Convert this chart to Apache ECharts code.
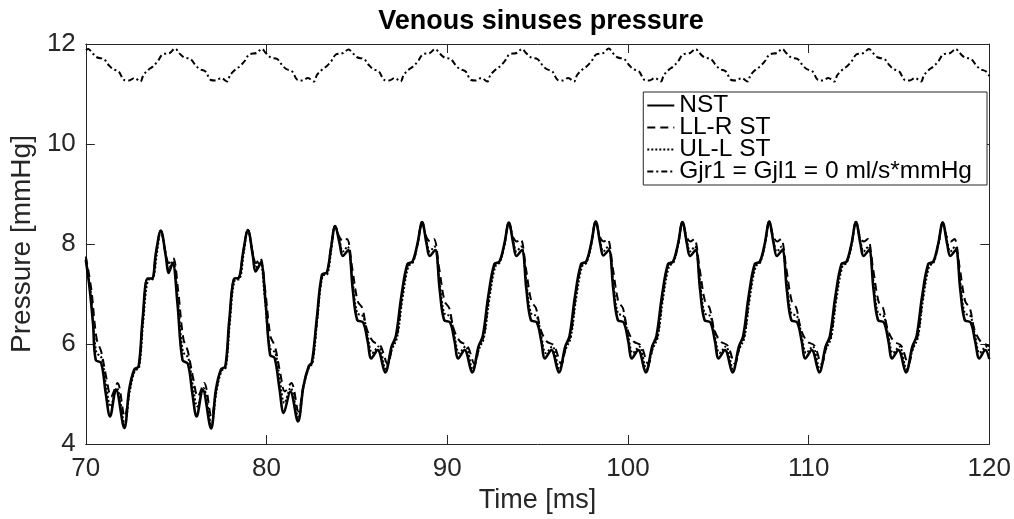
<!DOCTYPE html>
<html>
<head>
<meta charset="utf-8">
<title>Venous sinuses pressure</title>
<script src="https://cdn.jsdelivr.net/npm/echarts@6/dist/echarts.min.js"></script>
<style>
  html, body { margin: 0; padding: 0; background: #fff; }
  #chart { width: 1014px; height: 519px; }
</style>
</head>
<body>
<div id="chart"></div>
<script>
// axis ticks
const timeTicks = [70, 80, 90, 100, 110, 120];
const pressureTicks = [4, 6, 8, 10, 12];

// legend names
const seriesNames = ['NST', 'LL-R ST', 'UL-L ST', 'Gjr1 = Gjl1 = 0 ml/s*mmHg'];

// NST (solid)
const nstTime = [
  70.00, 70.20, 70.40, 70.55, 70.85, 71.10, 71.34, 71.67, 72.13, 72.40, 72.68, 72.92, 73.14, 73.42, 73.66, 73.88, 74.15,
  74.43, 74.58, 74.80, 75.07, 75.35, 75.65, 75.90, 76.13, 76.47, 76.93, 77.20, 77.48, 77.72, 77.94, 78.22, 78.46, 78.70, 78.97,
  79.25, 79.39, 79.68, 79.95, 80.20, 80.45, 80.72, 80.95, 81.32, 81.74, 82.04, 82.33, 82.51, 82.78, 83.07, 83.34, 83.56, 83.80,
  84.05, 84.22, 84.52, 84.77, 85.02, 85.35, 85.60, 85.80, 86.15, 86.57, 86.92, 87.16, 87.46, 87.80, 88.08, 88.35, 88.61,
  88.86, 89.03, 89.33, 89.58, 89.83, 90.16, 90.41, 90.61, 90.96, 91.38, 91.73, 91.97, 92.27, 92.61, 92.89, 93.16, 93.41,
  93.66, 93.83, 94.13, 94.38, 94.63, 94.96, 95.21, 95.41, 95.76, 96.18, 96.53, 96.77, 97.07, 97.41, 97.69, 97.96, 98.22,
  98.47, 98.64, 98.94, 99.19, 99.44, 99.77, 100.02, 100.22, 100.57, 100.99, 101.34, 101.58, 101.88, 102.22, 102.50, 102.77, 103.02,
  103.27, 103.44, 103.74, 103.99, 104.24, 104.57, 104.82, 105.02, 105.37, 105.79, 106.14, 106.38, 106.68, 107.02, 107.30, 107.57, 107.82,
  108.07, 108.24, 108.54, 108.79, 109.04, 109.37, 109.62, 109.82, 110.17, 110.59, 110.94, 111.18, 111.48, 111.82, 112.10, 112.37, 112.62,
  112.87, 113.04, 113.34, 113.59, 113.84, 114.17, 114.42, 114.62, 114.97, 115.39, 115.74, 115.98, 116.28, 116.62, 116.90, 117.17, 117.42,
  117.67, 117.84, 118.14, 118.39, 118.64, 118.97, 119.22, 119.45, 119.78, 120.00
];
const nstPressure = [
  7.68, 7.15, 6.40, 5.68, 5.62, 5.02, 4.55, 5.09, 4.32, 5.09, 5.49, 5.55, 6.48, 7.31, 7.31, 7.82, 8.27,
  7.75, 7.42, 7.62, 6.82, 5.68, 5.60, 5.00, 4.55, 5.09, 4.31, 5.09, 5.49, 5.55, 6.48, 7.31, 7.32, 7.82, 8.28,
  7.75, 7.45, 7.62, 6.82, 5.78, 5.72, 5.10, 4.62, 5.05, 4.45, 5.15, 5.55, 5.63, 6.50, 7.39, 7.43, 7.90, 8.36,
  8.00, 7.76, 7.88, 7.10, 6.48, 6.43, 6.05, 5.71, 5.88, 5.43, 5.95, 6.16, 6.95, 7.60, 7.65, 8.00, 8.44,
  8.00, 7.76, 7.88, 7.10, 6.48, 6.43, 6.05, 5.71, 5.88, 5.43, 5.95, 6.16, 6.95, 7.60, 7.65, 8.00, 8.43,
  8.00, 7.76, 7.88, 7.10, 6.48, 6.43, 6.05, 5.71, 5.88, 5.43, 5.95, 6.16, 6.95, 7.60, 7.65, 8.00, 8.45,
  8.00, 7.77, 7.88, 7.10, 6.48, 6.43, 6.05, 5.71, 5.88, 5.43, 5.95, 6.16, 6.95, 7.60, 7.65, 8.00, 8.44,
  8.00, 7.76, 7.88, 7.10, 6.48, 6.43, 6.05, 5.71, 5.88, 5.43, 5.95, 6.16, 6.95, 7.60, 7.65, 8.00, 8.45,
  8.00, 7.76, 7.88, 7.10, 6.48, 6.43, 6.05, 5.71, 5.88, 5.43, 5.95, 6.16, 6.95, 7.60, 7.65, 8.00, 8.44,
  8.00, 7.76, 7.88, 7.10, 6.48, 6.43, 6.05, 5.71, 5.88, 5.43, 5.95, 6.16, 6.95, 7.60, 7.65, 8.00, 8.43,
  8.00, 7.76, 7.88, 7.10, 6.48, 6.43, 6.05, 5.71, 5.88, 5.70
];

// LL-R ST (dashed)
const llrTime = [
  70.00, 70.30, 70.60, 70.85, 71.15, 71.40, 71.75, 72.15, 72.43, 72.70, 72.93, 73.15, 73.42, 73.66, 73.88, 74.15,
  74.40, 74.60, 74.83, 75.10, 75.40, 75.65, 75.95, 76.20, 76.55, 76.95, 77.23, 77.50, 77.73, 77.95, 78.22, 78.46, 78.70, 78.97,
  79.22, 79.42, 79.65, 79.92, 80.22, 80.47, 80.77, 81.02, 81.37, 81.77, 82.06, 82.35, 82.53, 82.80, 83.08, 83.34, 83.56, 83.80,
  84.02, 84.25, 84.45, 84.75, 85.05, 85.30, 85.55, 85.90, 86.30, 86.70, 87.00, 87.22, 87.50, 87.82, 88.10, 88.36, 88.61,
  88.83, 89.06, 89.26, 89.56, 89.86, 90.11, 90.36, 90.71, 91.11, 91.51, 91.81, 92.03, 92.31, 92.63, 92.91, 93.17, 93.41,
  93.63, 93.86, 94.06, 94.36, 94.66, 94.91, 95.16, 95.51, 95.91, 96.31, 96.61, 96.83, 97.11, 97.43, 97.71, 97.97, 98.22,
  98.44, 98.67, 98.87, 99.17, 99.47, 99.72, 99.97, 100.32, 100.72, 101.12, 101.42, 101.64, 101.92, 102.24, 102.52, 102.78, 103.02,
  103.24, 103.47, 103.67, 103.97, 104.27, 104.52, 104.77, 105.12, 105.52, 105.92, 106.22, 106.44, 106.72, 107.04, 107.32, 107.58, 107.82,
  108.04, 108.27, 108.47, 108.77, 109.07, 109.32, 109.57, 109.92, 110.32, 110.72, 111.02, 111.24, 111.52, 111.84, 112.12, 112.38, 112.62,
  112.84, 113.07, 113.27, 113.57, 113.87, 114.12, 114.37, 114.72, 115.12, 115.52, 115.82, 116.04, 116.32, 116.64, 116.92, 117.18, 117.42,
  117.64, 117.87, 118.07, 118.37, 118.67, 118.92, 119.17, 119.52, 119.92, 120.00
];
const llrPressure = [
  7.75, 7.10, 6.10, 5.85, 5.30, 4.95, 5.22, 4.55, 5.10, 5.48, 5.55, 6.48, 7.31, 7.31, 7.82, 8.27,
  7.85, 7.62, 7.72, 7.10, 6.10, 5.85, 5.30, 4.95, 5.22, 4.55, 5.10, 5.49, 5.55, 6.48, 7.31, 7.32, 7.82, 8.28,
  7.85, 7.62, 7.72, 7.10, 6.15, 5.95, 5.40, 5.05, 5.22, 4.65, 5.20, 5.55, 5.63, 6.50, 7.39, 7.43, 7.90, 8.36,
  8.15, 8.05, 8.10, 7.50, 6.85, 6.72, 6.30, 6.05, 5.97, 5.60, 6.00, 6.16, 6.95, 7.58, 7.65, 8.00, 8.44,
  8.15, 8.05, 8.10, 7.50, 6.85, 6.72, 6.30, 6.05, 5.97, 5.60, 6.00, 6.16, 6.95, 7.58, 7.65, 8.00, 8.43,
  8.15, 8.05, 8.10, 7.50, 6.85, 6.72, 6.30, 6.05, 5.97, 5.60, 6.00, 6.16, 6.95, 7.58, 7.65, 8.00, 8.45,
  8.15, 8.05, 8.10, 7.50, 6.85, 6.72, 6.30, 6.05, 5.97, 5.60, 6.00, 6.16, 6.95, 7.58, 7.65, 8.00, 8.44,
  8.15, 8.05, 8.10, 7.50, 6.85, 6.72, 6.30, 6.05, 5.97, 5.60, 6.00, 6.16, 6.95, 7.58, 7.65, 8.00, 8.45,
  8.15, 8.05, 8.10, 7.50, 6.85, 6.72, 6.30, 6.05, 5.97, 5.60, 6.00, 6.16, 6.95, 7.58, 7.65, 8.00, 8.44,
  8.15, 8.05, 8.10, 7.50, 6.85, 6.72, 6.30, 6.05, 5.97, 5.60, 6.00, 6.16, 6.95, 7.58, 7.65, 8.00, 8.43,
  8.15, 8.05, 8.10, 7.50, 6.85, 6.72, 6.30, 6.05, 5.97, 5.95
];

// UL-L ST (dotted)
const ullTime = [
  70.00, 70.28, 70.57, 70.87, 71.13, 71.37, 71.71, 72.15, 72.43, 72.71, 72.95, 73.17, 73.45, 73.71, 73.93, 74.15,
  74.42, 74.59, 74.82, 75.08, 75.37, 75.67, 75.93, 76.17, 76.51, 76.95, 77.23, 77.51, 77.75, 77.97, 78.25, 78.51, 78.73, 78.97,
  79.24, 79.41, 79.64, 79.90, 80.19, 80.49, 80.75, 80.99, 81.33, 81.77, 82.05, 82.35, 82.55, 82.80, 83.10, 83.37, 83.58, 83.80,
  84.05, 84.22, 84.48, 84.75, 85.02, 85.35, 85.60, 85.85, 86.20, 86.60, 86.95, 87.22, 87.52, 87.85, 88.10, 88.36, 88.61,
  88.86, 89.03, 89.29, 89.56, 89.83, 90.16, 90.41, 90.66, 91.01, 91.41, 91.76, 92.03, 92.33, 92.66, 92.91, 93.17, 93.41,
  93.66, 93.83, 94.09, 94.36, 94.63, 94.96, 95.21, 95.46, 95.81, 96.21, 96.56, 96.83, 97.13, 97.46, 97.71, 97.97, 98.22,
  98.47, 98.64, 98.90, 99.17, 99.44, 99.77, 100.02, 100.27, 100.62, 101.02, 101.37, 101.64, 101.94, 102.27, 102.52, 102.78, 103.02,
  103.27, 103.44, 103.70, 103.97, 104.24, 104.57, 104.82, 105.07, 105.42, 105.82, 106.17, 106.44, 106.74, 107.07, 107.32, 107.58, 107.82,
  108.07, 108.24, 108.50, 108.77, 109.04, 109.37, 109.62, 109.87, 110.22, 110.62, 110.97, 111.24, 111.54, 111.87, 112.12, 112.38, 112.62,
  112.87, 113.04, 113.30, 113.57, 113.84, 114.17, 114.42, 114.67, 115.02, 115.42, 115.77, 116.04, 116.34, 116.67, 116.92, 117.18, 117.42,
  117.67, 117.84, 118.10, 118.37, 118.64, 118.97, 119.22, 119.47, 119.82, 120.00
];
const ullPressure = [
  7.70, 7.00, 5.85, 5.72, 5.15, 4.75, 5.12, 4.40, 5.05, 5.46, 5.53, 6.42, 7.28, 7.30, 7.80, 8.27,
  7.80, 7.50, 7.66, 6.95, 5.85, 5.72, 5.15, 4.75, 5.12, 4.40, 5.05, 5.46, 5.53, 6.42, 7.28, 7.30, 7.80, 8.28,
  7.80, 7.52, 7.66, 6.95, 5.92, 5.82, 5.25, 4.82, 5.12, 4.52, 5.15, 5.53, 5.62, 6.45, 7.36, 7.40, 7.88, 8.36,
  8.05, 7.85, 7.95, 7.30, 6.62, 6.55, 6.15, 5.82, 5.95, 5.50, 5.90, 6.12, 6.90, 7.55, 7.63, 7.98, 8.44,
  8.05, 7.85, 7.95, 7.30, 6.62, 6.55, 6.15, 5.82, 5.95, 5.50, 5.90, 6.12, 6.90, 7.55, 7.63, 7.98, 8.43,
  8.05, 7.85, 7.95, 7.30, 6.62, 6.55, 6.15, 5.82, 5.95, 5.50, 5.90, 6.12, 6.90, 7.55, 7.63, 7.98, 8.45,
  8.05, 7.85, 7.95, 7.30, 6.62, 6.55, 6.15, 5.82, 5.95, 5.50, 5.90, 6.12, 6.90, 7.55, 7.63, 7.98, 8.44,
  8.05, 7.85, 7.95, 7.30, 6.62, 6.55, 6.15, 5.82, 5.95, 5.50, 5.90, 6.12, 6.90, 7.55, 7.63, 7.98, 8.45,
  8.05, 7.85, 7.95, 7.30, 6.62, 6.55, 6.15, 5.82, 5.95, 5.50, 5.90, 6.12, 6.90, 7.55, 7.63, 7.98, 8.44,
  8.05, 7.85, 7.95, 7.30, 6.62, 6.55, 6.15, 5.82, 5.95, 5.50, 5.90, 6.12, 6.90, 7.55, 7.63, 7.98, 8.43,
  8.05, 7.85, 7.95, 7.30, 6.62, 6.55, 6.15, 5.82, 5.95, 5.85
];

// Gjr1 = Gjl1 = 0 (dash-dot)
const gjTime = [
  70.00, 70.14,
  70.36, 70.64, 70.99, 71.26, 71.49, 71.82, 72.12, 72.39, 72.69, 73.02, 73.19, 73.51, 73.71, 73.99, 74.24, 74.64, 74.94,
  75.16, 75.44, 75.79, 76.06, 76.29, 76.62, 76.92, 77.19, 77.49, 77.82, 77.99, 78.31, 78.51, 78.79, 79.04, 79.44, 79.74,
  79.96, 80.24, 80.59, 80.86, 81.09, 81.42, 81.72, 81.99, 82.29, 82.62, 82.79, 83.11, 83.31, 83.59, 83.84, 84.24, 84.54,
  84.76, 85.04, 85.39, 85.66, 85.89, 86.22, 86.52, 86.79, 87.09, 87.42, 87.59, 87.91, 88.11, 88.39, 88.64, 89.04, 89.34,
  89.56, 89.84, 90.19, 90.46, 90.69, 91.02, 91.32, 91.59, 91.89, 92.22, 92.39, 92.71, 92.91, 93.19, 93.44, 93.84, 94.14,
  94.36, 94.64, 94.99, 95.26, 95.49, 95.82, 96.12, 96.39, 96.69, 97.02, 97.19, 97.51, 97.71, 97.99, 98.24, 98.64, 98.94,
  99.16, 99.44, 99.79, 100.06, 100.29, 100.62, 100.92, 101.19, 101.49, 101.82, 101.99, 102.31, 102.51, 102.79, 103.04, 103.44, 103.74,
  103.96, 104.24, 104.59, 104.86, 105.09, 105.42, 105.72, 105.99, 106.29, 106.62, 106.79, 107.11, 107.31, 107.59, 107.84, 108.24, 108.54,
  108.76, 109.04, 109.39, 109.66, 109.89, 110.22, 110.52, 110.79, 111.09, 111.42, 111.59, 111.91, 112.11, 112.39, 112.64, 113.04, 113.34,
  113.56, 113.84, 114.19, 114.46, 114.69, 115.02, 115.32, 115.59, 115.89, 116.22, 116.39, 116.71, 116.91, 117.19, 117.44, 117.84, 118.14,
  118.36, 118.64, 118.99, 119.26, 119.49, 119.82, 120.00
];
const gjPressure = [
  11.88, 11.90,
  11.82, 11.73, 11.70, 11.58, 11.50, 11.45, 11.28, 11.27, 11.32, 11.25, 11.38, 11.50, 11.55, 11.66, 11.79, 11.82, 11.91,
  11.82, 11.73, 11.70, 11.58, 11.50, 11.45, 11.28, 11.27, 11.32, 11.25, 11.38, 11.50, 11.55, 11.66, 11.79, 11.82, 11.90,
  11.82, 11.73, 11.70, 11.58, 11.50, 11.45, 11.28, 11.27, 11.32, 11.25, 11.38, 11.50, 11.55, 11.66, 11.79, 11.82, 11.89,
  11.82, 11.73, 11.70, 11.58, 11.50, 11.45, 11.28, 11.27, 11.32, 11.25, 11.38, 11.50, 11.55, 11.66, 11.79, 11.82, 11.90,
  11.82, 11.73, 11.70, 11.58, 11.50, 11.45, 11.28, 11.27, 11.32, 11.25, 11.38, 11.50, 11.55, 11.66, 11.79, 11.82, 11.90,
  11.82, 11.73, 11.70, 11.58, 11.50, 11.45, 11.28, 11.27, 11.32, 11.25, 11.38, 11.50, 11.55, 11.66, 11.79, 11.82, 11.91,
  11.82, 11.73, 11.70, 11.58, 11.50, 11.45, 11.28, 11.27, 11.32, 11.25, 11.38, 11.50, 11.55, 11.66, 11.79, 11.82, 11.90,
  11.82, 11.73, 11.70, 11.58, 11.50, 11.45, 11.28, 11.27, 11.32, 11.25, 11.38, 11.50, 11.55, 11.66, 11.79, 11.82, 11.90,
  11.82, 11.73, 11.70, 11.58, 11.50, 11.45, 11.28, 11.27, 11.32, 11.25, 11.38, 11.50, 11.55, 11.66, 11.79, 11.82, 11.90,
  11.82, 11.73, 11.70, 11.58, 11.50, 11.45, 11.28, 11.27, 11.32, 11.25, 11.38, 11.50, 11.55, 11.66, 11.79, 11.82, 11.90,
  11.82, 11.73, 11.70, 11.58, 11.50, 11.45, 11.36
];

const FONT = '"Liberation Sans", Arial, Helvetica, sans-serif';
const AXIS_COLOR = '#262626';

function pairs(t, v) {
  return t.map((x, i) => [x, v[i]]);
}

function lineSeries(name, data, width, dash) {
  return {
    name: name,
    type: 'line',
    data: data,
    symbol: 'none',
    smooth: 0.35,
    animation: false,
    lineStyle: { color: '#000', width: width, type: dash, cap: 'butt' },
    itemStyle: { color: '#000' }
  };
}

const chart = echarts.init(document.getElementById('chart'));

const baseX = {
  type: 'value',
  min: timeTicks[0],
  max: timeTicks[timeTicks.length - 1],
  interval: 10,
  axisLine: { show: true, onZero: false, lineStyle: { color: AXIS_COLOR, width: 1 } },
  axisTick: { show: true, inside: true, length: 9, lineStyle: { color: AXIS_COLOR } },
  splitLine: { show: false }
};
const baseY = {
  type: 'value',
  min: pressureTicks[0],
  max: pressureTicks[pressureTicks.length - 1],
  interval: 2,
  axisLine: { show: true, onZero: false, lineStyle: { color: AXIS_COLOR, width: 1 } },
  axisTick: { show: true, inside: true, length: 9, lineStyle: { color: AXIS_COLOR } },
  splitLine: { show: false }
};

chart.setOption({
  backgroundColor: '#fff',
  animation: false,
  title: {
    text: 'Venous sinuses pressure',
    left: 536,
    textAlign: 'center',
    top: 3,
    textStyle: { fontFamily: FONT, fontSize: 27, fontWeight: 'bold', color: '#000' }
  },
  grid: { left: 83, right: 24, top: 44, bottom: 75, containLabel: false },
  legend: {
    data: seriesNames,
    orient: 'vertical',
    right: 27,
    top: 92,
    itemWidth: 27,
    itemHeight: 14,
    itemGap: -3,
    padding: [1, 15, 1, 3],
    backgroundColor: '#fff',
    borderColor: AXIS_COLOR,
    borderWidth: 1,
    borderRadius: 0,
    itemStyle: { opacity: 0, borderWidth: 0 },
    textStyle: { fontFamily: FONT, fontSize: 24.5, color: '#000' }
  },
  xAxis: [
    Object.assign({}, baseX, {
      position: 'bottom',
      name: 'Time [ms]',
      nameLocation: 'middle',
      nameGap: 42,
      nameTextStyle: { fontFamily: FONT, fontSize: 27, color: AXIS_COLOR },
      axisLabel: { fontFamily: FONT, fontSize: 26, color: AXIS_COLOR, margin: 12 }
    }),
    Object.assign({}, baseX, { position: 'top', axisLabel: { show: false } })
  ],
  yAxis: [
    Object.assign({}, baseY, {
      position: 'left',
      name: 'Pressure [mmHg]',
      nameLocation: 'middle',
      nameGap: 46,
      nameTextStyle: { fontFamily: FONT, fontSize: 28, color: AXIS_COLOR },
      axisLabel: { fontFamily: FONT, fontSize: 26, color: AXIS_COLOR, margin: 10 }
    }),
    Object.assign({}, baseY, { position: 'right', axisLabel: { show: false } })
  ],
  series: [
    lineSeries(seriesNames[0], pairs(nstTime, nstPressure), 2.6, 'solid'),
    lineSeries(seriesNames[1], pairs(llrTime, llrPressure), 2, [8, 5]),
    lineSeries(seriesNames[2], pairs(ullTime, ullPressure), 2, [2, 2]),
    lineSeries(seriesNames[3], pairs(gjTime, gjPressure), 2, [6, 3, 2, 3])
  ]
});
</script>
</body>
</html>
